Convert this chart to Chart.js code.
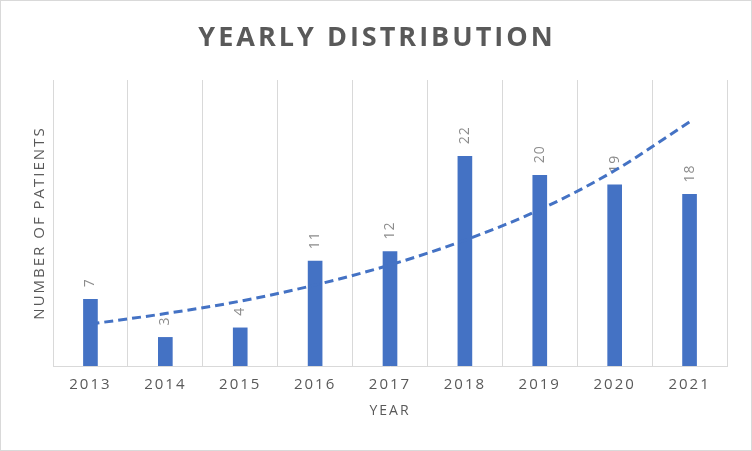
<!DOCTYPE html>
<html>
<head>
<meta charset="utf-8">
<script src="https://cdn.jsdelivr.net/npm/chart.js@4.4.1/dist/chart.umd.min.js"></script>
<style>
  html, body { margin: 0; padding: 0; background: #fff; }
  #wrap { width: 750px; height: 449px; border: 1px solid #d9d9d9; position: relative; }
</style>
</head>
<body>
<div id="wrap"><canvas id="myChart"></canvas></div>
<script>
'use strict';

// values
const years = ['2013', '2014', '2015', '2016', '2017', '2018', '2019', '2020', '2021'];
const patients = [7, 3, 4, 11, 12, 22, 20, 19, 18];
// dashed trend line, estimated at each year
const trend = [4.4, 5.5, 6.8, 8.5, 10.6, 13.2, 16.4, 20.5, 25.6];
const chartTitle = 'YEARLY DISTRIBUTION';

const blue = '#4472C4';
const grey = '#595959';

const titlePlugin = {
  id: 'bigTitle',
  beforeDraw(chart) {
    // excel-ish spaced text for ticks and axis titles
    chart.ctx.letterSpacing = '2px';
  },
  afterDraw(chart) {
    const ctx = chart.ctx;
    ctx.save();
    ctx.letterSpacing = '3px';
    ctx.font = 'bold 27px "Open Sans"';
    ctx.fillStyle = grey;
    ctx.textAlign = 'center';
    ctx.textBaseline = 'middle';
    ctx.fillText(chartTitle, chart.width / 2 + 1, 37);
    ctx.restore();
  }
};

const labelPlugin = {
  id: 'barLabels',
  afterDatasetDraw(chart, args) {
    if (args.index !== 1) return;
    const ctx = chart.ctx;
    const meta = args.meta;
    ctx.save();
    ctx.letterSpacing = '1px';
    ctx.font = '14px "Open Sans"';
    ctx.fillStyle = '#8c8c8c';
    ctx.textAlign = 'left';
    ctx.textBaseline = 'middle';
    meta.data.forEach((bar, i) => {
      ctx.save();
      ctx.translate(bar.x, bar.y - 12);
      ctx.rotate(-Math.PI / 2);
      ctx.fillText(String(patients[i]), 0, 0);
      ctx.restore();
    });
    ctx.restore();
  }
};

const ctx = document.getElementById('myChart').getContext('2d');
const myChart = new Chart(ctx, {
  data: {
    labels: years,
    datasets: [{
      type: 'line',
      label: 'Trend',
      data: trend,
      borderColor: blue,
      borderWidth: 3,
      borderDash: [9, 5],
      pointRadius: 0,
      cubicInterpolationMode: 'monotone',
      fill: false,
      order: 0
    }, {
      type: 'bar',
      label: 'Patients',
      data: patients,
      backgroundColor: blue,
      barThickness: 14,
      order: 1
    }]
  },
  options: {
    responsive: true,
    maintainAspectRatio: false,
    animation: false,
    layout: { padding: { top: 79, left: 27, right: 24, bottom: 32 } },
    plugins: {
      legend: { display: false },
      tooltip: { enabled: false },
      title: { display: false }
    },
    scales: {
      x: {
        offset: true,
        grid: { color: '#d9d9d9', offset: true, drawTicks: false, tickLength: 0 },
        border: { color: '#d9d9d9' },
        ticks: { color: grey, font: { family: 'Open Sans', size: 15 }, padding: 10 },
        title: {
          display: true, text: 'YEAR', color: grey,
          font: { family: 'Open Sans', size: 14, lineHeight: 1 }, padding: { top: 0, bottom: 0 }
        }
      },
      y: {
        min: 0,
        max: 30,
        grid: { display: false, drawTicks: false, tickLength: 0 },
        border: { display: false },
        ticks: { display: false },
        title: {
          display: true, text: 'NUMBER OF PATIENTS', color: grey,
          font: { family: 'Open Sans', size: 15 }, padding: { top: 3, bottom: 4 }
        }
      }
    }
  },
  plugins: [titlePlugin, labelPlugin]
});
</script>
</body>
</html>
